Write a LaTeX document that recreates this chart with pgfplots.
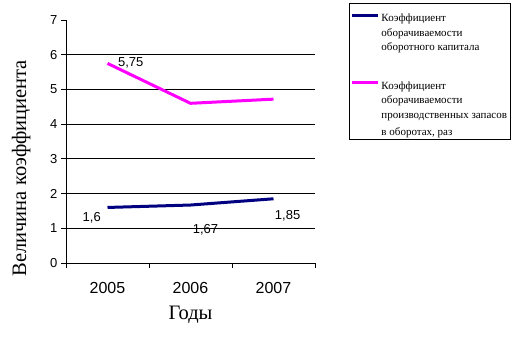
\documentclass[border=0pt]{standalone}
\usepackage{fontspec}
\setmainfont{Liberation Serif}
\newfontfamily\arial{Liberation Sans}
\usepackage{pgfplots}
\pgfplotsset{compat=1.18}
\definecolor{navyc}{RGB}{0,0,128}
\definecolor{magc}{RGB}{255,0,255}
\newcommand\legtxt[2][-4pt]{\fontsize{11}{13}\selectfont\rule[#1]{0pt}{13pt}#2}
\begin{document}
\begin{tikzpicture}[x=1pt,y=1pt]
\path (0,0) rectangle (513,348);
\begin{axis}[
  at={(66pt,85pt)}, anchor=south west,
  scale only axis, width=249pt, height=243pt,
  xmin=-0.5, xmax=2.5, ymin=0, ymax=7,
  clip=false,
  axis x line=bottom, axis y line=left,
  axis line style={-, line width=1pt},
  xtick={0,1,2}, xticklabels={2005,2006,2007},
  major x tick style={draw=none},
  minor xtick={-0.5,0.5,1.5,2.5},
  ytick={0,...,7},
  tick align=outside, major tick length=5pt, minor tick length=5pt,
  tick style={black, line width=0.8pt},
  extra y ticks={1,...,6}, extra y tick labels={},
  extra y tick style={ymajorgrids=true, major tick length=0pt},
  grid style={black, line width=0.8pt},
  yticklabel style={font=\arial\fontsize{13}{13}\selectfont},
  xticklabel style={font=\arial\fontsize{16}{16}\selectfont, anchor=center, yshift=-20pt},
  /pgf/number format/assume math mode=true,
  xlabel={Годы}, ylabel={Величина коэффициента},
  label style={font=\fontsize{20.5}{20.5}\selectfont},
  ylabel style={at={(axis description cs:-0.18,0.39)}, anchor=center},
  xlabel style={at={(axis description cs:0.5,-0.215)}, anchor=center},
  legend style={at={(axis description cs:1.1365,1.07)}, anchor=north west,
    draw=black, line width=1pt, inner xsep=1pt, inner ysep=1pt,
    row sep=0pt, font=\fontsize{11}{13}\selectfont,
    cells={anchor=west, inner xsep=0pt, inner ysep=0pt}},
  legend image code/.code={\draw[#1, line width=3pt] (0pt,3pt) -- (26pt,3pt);},
]
\addlegendimage{empty legend}\addlegendentry{\rule{0pt}{1pt}}
\addplot[navyc, line width=3pt] coordinates {(0,1.6) (1,1.67) (2,1.85)};
\addlegendentry{\legtxt{Коэффициент}}
\addlegendimage{empty legend}\addlegendentry{\legtxt{оборачиваемости}}
\addlegendimage{empty legend}\addlegendentry{\legtxt{оборотного капитала}}
\addlegendimage{empty legend}\addlegendentry{\rule[-4pt]{0pt}{22.5pt}}
\addplot[magc, line width=3pt] coordinates {(0,5.75) (1,4.6) (2,4.72)};
\addlegendentry{\legtxt{Коэффициент}}
\addlegendimage{empty legend}\addlegendentry{\legtxt{оборачиваемости}}
\addlegendimage{empty legend}\addlegendentry{\legtxt{производственных запасов}}
\addlegendimage{empty legend}\addlegendentry{\legtxt[-1.5pt]{в оборотах, раз}}
\node[font=\arial\fontsize{13}{13}\selectfont] at (axis cs:0.28,5.76) {5,75};
\node[font=\arial\fontsize{13}{13}\selectfont] at (axis cs:-0.19,1.30) {1,6};
\node[font=\arial\fontsize{13}{13}\selectfont] at (axis cs:1.18,0.97) {1,67};
\node[font=\arial\fontsize{13}{13}\selectfont] at (axis cs:2.17,1.35) {1,85};
\end{axis}
\end{tikzpicture}
\end{document}
